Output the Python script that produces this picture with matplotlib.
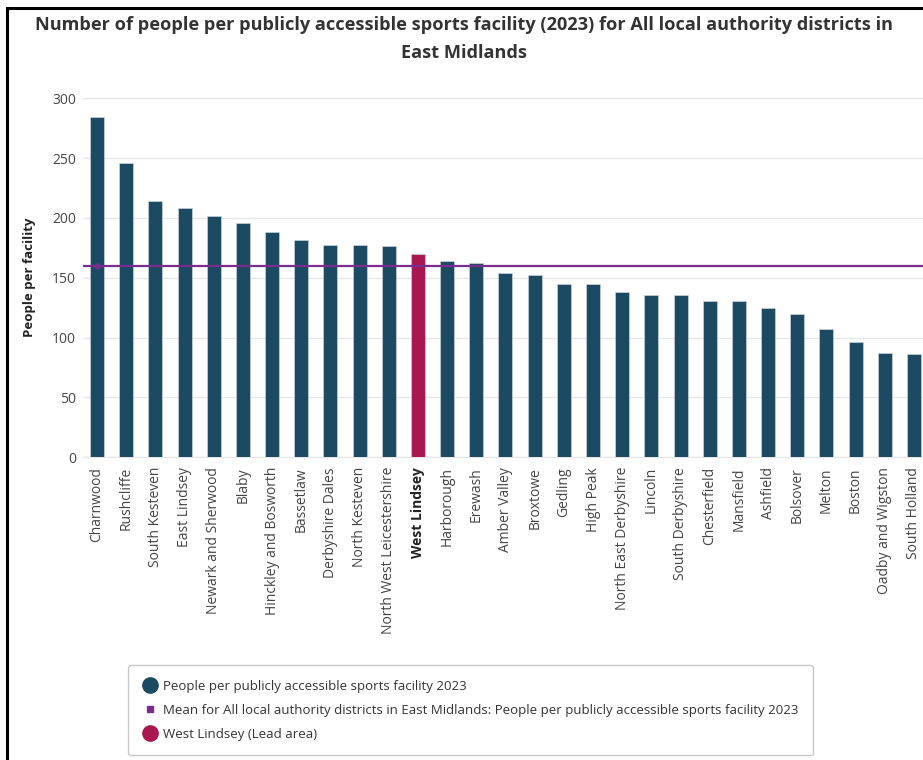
import matplotlib
matplotlib.use("Agg")
import matplotlib.pyplot as plt
from matplotlib.lines import Line2D
from matplotlib.patches import Rectangle

plt.rcParams["font.family"] = ["Open Sans", "DejaVu Sans"]

# 지역 및 값
districts = [
    "Charnwood", "Rushcliffe", "South Kesteven", "East Lindsey", "Newark and Sherwood",
    "Blaby", "Hinckley and Bosworth", "Bassetlaw", "Derbyshire Dales", "North Kesteven",
    "North West Leicestershire", "West Lindsey", "Harborough", "Erewash", "Amber Valley",
    "Broxtowe", "Gedling", "High Peak", "North East Derbyshire", "Lincoln",
    "South Derbyshire", "Chesterfield", "Mansfield", "Ashfield", "Bolsover",
    "Melton", "Boston", "Oadby and Wigston", "South Holland",
]
people_per_facility = [
    284, 246, 214, 208.5, 201.5,
    195.5, 188, 181.5, 177.5, 177.5,
    176.5, 169.5, 164, 162.5, 154,
    152.5, 144.5, 144.5, 138.5, 135.5,
    135.5, 131, 130.5, 124.5, 120,
    107, 96, 87.5, 86.5,
]
mean_value = 160
lead_area = "West Lindsey"

bar_color = "#1b4a62"
lead_color = "#a8174f"
mean_color = "#7a2d8c"
text_color = "#333333"

fig = plt.figure(figsize=(9.23, 7.6), dpi=100)
ax = fig.add_axes([83 / 923, 1 - 457.3 / 760, 1 - 83 / 923, (457.3 - 98.3) / 760])

colors = [lead_color if d == lead_area else bar_color for d in districts]
x = list(range(len(districts)))
ax.bar(x, people_per_facility, width=0.48, color=colors,
       edgecolor="#c8d3da", linewidth=0.5, zorder=3)

# 평균선
ax.axhline(mean_value, color=mean_color, linewidth=1.6, zorder=4)
ax.plot([0], [mean_value], "o", color=mean_color, markersize=3.5, zorder=5)

ax.set_xlim(-0.48, len(districts) - 1 + 0.31)
ax.set_ylim(0, 300)
ax.set_yticks([0, 50, 100, 150, 200, 250, 300])
ax.grid(axis="y", color="#e6e6e6", linewidth=1, zorder=0)
for s in ["top", "right", "left"]:
    ax.spines[s].set_visible(False)
ax.spines["bottom"].set_color("#e6e6e6")
ax.tick_params(axis="y", length=0, pad=5, labelsize=10, labelcolor="#444444")
ax.tick_params(axis="x", length=0, pad=7, labelsize=10, labelcolor="#444444")
ax.set_xticks(x)
ax.set_xticklabels(districts, rotation=90, va="top", ha="center")
for lbl in ax.get_xticklabels():
    if lbl.get_text() == lead_area:
        lbl.set_fontweight("bold")
        lbl.set_color("#222222")

ax.set_ylabel("People per facility", fontsize=9.5, fontweight="bold",
              color="#222222")
ax.yaxis.set_label_coords(-47 / 840, 0.5)

fig.text(0.503, 1 - 25 / 760,
         "Number of people per publicly accessible sports facility (2023) for All local authority districts in",
         ha="center", va="center", fontsize=13.05, fontweight="bold", color=text_color)
fig.text(0.503, 1 - 53 / 760, "East Midlands",
         ha="center", va="center", fontsize=13.05, fontweight="bold", color=text_color)

# 바깥 테두리
fig.patches.append(Rectangle((7.5 / 923, -0.1), 1.2, 1 - 8.5 / 760 + 0.1,
                             transform=fig.transFigure, fill=False,
                             edgecolor="black", linewidth=2.2))

handles = [
    Line2D([], [], marker="o", linestyle="none", markersize=11, color=bar_color),
    Line2D([], [], marker="s", linestyle="none", markersize=4, color=mean_color),
    Line2D([], [], marker="o", linestyle="none", markersize=11, color=lead_color),
]
labels = [
    "People per publicly accessible sports facility 2023",
    "Mean for All local authority districts in East Midlands: People per publicly accessible sports facility 2023",
    "West Lindsey (Lead area)",
]
leg = fig.legend(handles, labels, loc="upper left",
                 bbox_to_anchor=(128 / 923, 1 - 665 / 760), borderaxespad=0,
                 frameon=True, fontsize=9.5, labelcolor=text_color,
                 handletextpad=0.35, labelspacing=0.85, borderpad=1.1,
                 handlelength=1.2, fancybox=True)
leg.get_frame().set_edgecolor("#bbbbbb")
leg.get_frame().set_linewidth(1)

fig.savefig("out.png", dpi=100)
